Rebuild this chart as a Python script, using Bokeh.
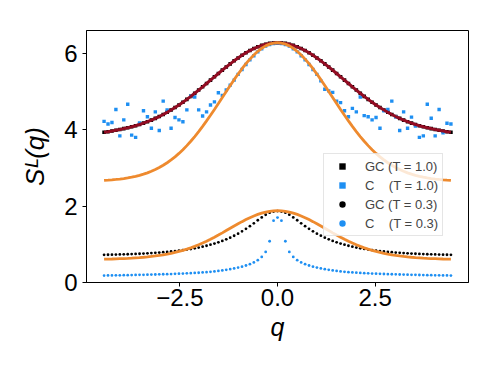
import numpy as np
from bokeh.plotting import figure
from bokeh.models import Range1d, FixedTicker, Legend, LegendItem
from bokeh.embed import file_html
from bokeh.resources import INLINE

# sample positions (uniform grid in q)
q = np.round(np.linspace(-4.44, 4.44, 89), 4)

# symmetric series given for q >= 0 (0.0, 0.1, ..., 4.4)
gc10_half = [6.280, 6.276, 6.263, 6.241, 6.211, 6.173, 6.128, 6.075, 6.016, 5.951,
             5.881, 5.806, 5.727, 5.645, 5.561, 5.474, 5.387, 5.299, 5.212, 5.125,
             5.040, 4.956, 4.875, 4.797, 4.722, 4.650, 4.582, 4.518, 4.457, 4.400,
             4.347, 4.298, 4.253, 4.211, 4.173, 4.139, 4.107, 4.079, 4.054, 4.031,
             4.008, 3.988, 3.968, 3.950, 3.935]
theory10_half = [6.280, 6.271, 6.243, 6.197, 6.134, 6.055, 5.960, 5.851, 5.731, 5.599,
                 5.459, 5.312, 5.159, 5.003, 4.846, 4.689, 4.533, 4.380, 4.232, 4.089,
                 3.952, 3.822, 3.699, 3.585, 3.479, 3.381, 3.291, 3.210, 3.136, 3.070,
                 3.011, 2.959, 2.913, 2.872, 2.837, 2.807, 2.781, 2.759, 2.740, 2.723,
                 2.710, 2.699, 2.689, 2.681, 2.675]
gc03_half = [1.870, 1.860, 1.830, 1.775, 1.705, 1.630, 1.550, 1.475, 1.405, 1.340,
             1.280, 1.225, 1.175, 1.130, 1.090, 1.053, 1.020, 0.990, 0.963, 0.938,
             0.916, 0.896, 0.878, 0.862, 0.848, 0.835, 0.823, 0.812, 0.802, 0.793,
             0.785, 0.777, 0.770, 0.764, 0.758, 0.753, 0.748, 0.744, 0.740, 0.737,
             0.734, 0.731, 0.729, 0.727, 0.726]
theory03_half = [1.880, 1.876, 1.864, 1.844, 1.817, 1.783, 1.743, 1.698, 1.648, 1.594,
                 1.538, 1.480, 1.420, 1.360, 1.300, 1.242, 1.186, 1.132, 1.081, 1.033,
                 0.988, 0.946, 0.908, 0.873, 0.842, 0.813, 0.787, 0.764, 0.743, 0.725,
                 0.709, 0.695, 0.682, 0.671, 0.661, 0.652, 0.645, 0.638, 0.632, 0.627,
                 0.623, 0.619, 0.616, 0.614, 0.612]
c03_half = [1.700, 1.620, 1.080, 0.800, 0.670, 0.585, 0.525, 0.480, 0.445, 0.415,
            0.390, 0.368, 0.348, 0.331, 0.316, 0.302, 0.290, 0.280, 0.271, 0.263,
            0.256, 0.250, 0.244, 0.239, 0.234, 0.230, 0.226, 0.222, 0.219, 0.216,
            0.213, 0.210, 0.207, 0.204, 0.202, 0.200, 0.197, 0.195, 0.193, 0.191,
            0.189, 0.187, 0.185, 0.184, 0.182]

# noisy series, full grid q = -4.4 ... 4.4
c10 = [4.22, 4.15, 4.19, 4.53, 3.84, 4.26, 4.67, 3.86, 3.80, 4.18,
       4.50, 4.34, 4.04, 4.47, 3.98, 4.75, 4.52, 4.04, 4.32, 4.26,
       4.21, 4.52, 4.88, 4.86, 4.52, 4.36, 4.47, 4.65, 4.73, 4.97,
       4.90, 5.04, 5.17, 5.30, 5.45, 5.58, 5.71, 5.83, 5.94, 6.04,
       6.12, 6.19, 6.23, 6.26,
       6.27,
       6.26, 6.23, 6.19, 6.12, 6.04, 5.94, 5.83, 5.71, 5.58, 5.45,
       5.28, 5.06, 5.02, 4.98, 4.75, 4.71, 4.50, 4.34, 4.56, 4.47,
       4.86, 4.37, 4.34, 4.26, 4.32, 4.04, 4.50, 4.53, 4.75, 4.34,
       3.98, 4.47, 4.04, 4.33, 4.10, 3.80, 3.84, 4.67, 4.30, 3.84,
       4.53, 3.92, 4.17, 4.15]

x_ticks = [-2.5, 0.0, 2.5]
x_tick_labels = ["\u22122.5", "0.0", "2.5"]
y_ticks = [0, 2, 4, 6]
labels = ["GC (T = 1.0)", "C\u00a0\u00a0\u00a0\u00a0(T = 1.0)",
          "GC (T = 0.3)", "C\u00a0\u00a0\u00a0\u00a0(T = 0.3)"]


def mirror(h):
    return list(h[:0:-1]) + list(h)


gc10 = mirror(gc10_half)
th10 = mirror(theory10_half)
gc03 = mirror(gc03_half)
th03 = mirror(theory03_half)
c03 = mirror(c03_half)

BLUE = "#1e8ff2"
ORANGE = "#ee8a2e"
DARKRED = "#920c22"
FONT = "Liberation Sans"

p = figure(width=490, height=366, x_range=Range1d(-4.89, 4.89), y_range=Range1d(0, 6.6),
           output_backend="svg", toolbar_location=None,
           min_border_left=86, min_border_right=22, min_border_top=30, min_border_bottom=84)
p.xgrid.visible = False
p.ygrid.visible = False
p.outline_line_color = "black"
p.outline_line_width = 1
p.outline_line_alpha = 1
p.background_fill_color = "white"
p.border_fill_color = "white"

r_gc10 = p.scatter(q, gc10, marker="square", size=3.6, fill_color="black", line_color=None)
r_c10 = p.scatter(q, c10, marker="square", size=3.4, fill_color=BLUE, line_color=None)
r_gc03 = p.scatter(q, gc03, marker="circle", size=2.8, fill_color="black", line_color=None)
r_c03 = p.scatter(q, c03, marker="circle", size=2.8, fill_color=BLUE, line_color=None)
p.line(q, gc10, line_width=3, color=DARKRED)
p.line(q, th10, line_width=2.8, color=ORANGE)
p.line(q, th03, line_width=2.8, color=ORANGE)

p.xaxis.ticker = FixedTicker(ticks=x_ticks)
p.xaxis.major_label_overrides = {t: l for t, l in zip(x_ticks, x_tick_labels)}
p.yaxis.ticker = FixedTicker(ticks=y_ticks)
for ax in (p.xaxis, p.yaxis):
    ax.minor_tick_line_color = None
    ax.major_tick_out = 4
    ax.major_tick_in = 0
    ax.major_tick_line_color = "black"
    ax.axis_line_color = "black"
    ax.major_label_text_font = FONT
    ax.major_label_text_font_size = "24px"
    ax.major_label_text_color = "black"
    ax.axis_label_text_font = FONT
    ax.axis_label_text_font_style = "italic"
    ax.axis_label_text_color = "black"
p.xaxis.axis_label_text_font_size = "25px"
p.yaxis.axis_label_text_font_size = "26px"
p.xaxis.major_label_standoff = 2
p.yaxis.major_label_standoff = 5
p.xaxis.axis_label = "q"
p.yaxis.axis_label = "S\u1d38(q)"
p.xaxis.axis_label_standoff = 4
p.yaxis.axis_label_standoff = 11

legend = Legend(items=[LegendItem(label=labels[0], renderers=[r_gc10]),
                       LegendItem(label=labels[1], renderers=[r_c10]),
                       LegendItem(label=labels[2], renderers=[r_gc03]),
                       LegendItem(label=labels[3], renderers=[r_c03])],
                location=(237, 46))
legend.label_text_font = FONT
legend.label_text_font_size = "13px"
legend.label_height = 16
legend.glyph_height = 16
legend.glyph_width = 28
legend.label_standoff = 9
legend.spacing = 3
legend.padding = 4
legend.margin = 0
legend.border_line_color = "#cccccc"
legend.border_line_width = 1
legend.background_fill_alpha = 0.8
p.add_layout(legend)

open("out.html", "w").write(file_html(p, INLINE))
